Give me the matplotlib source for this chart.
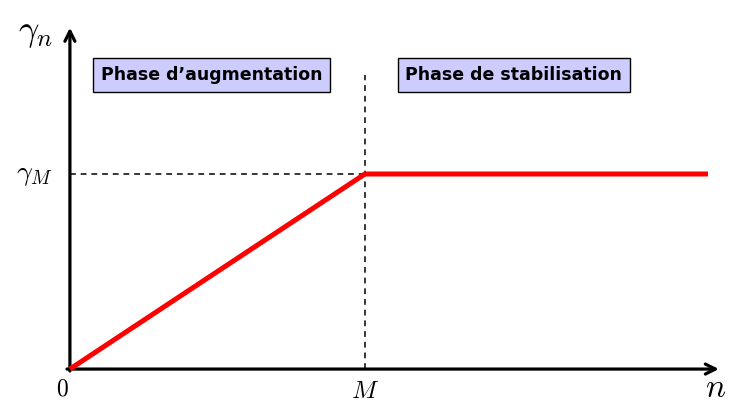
import matplotlib.pyplot as plt

plt.rcParams['mathtext.fontset'] = 'cm'

# n en unités de M, gamma en unités de gamma_M
n = [0, 1, 2.163]
gamma = [0, 1, 1]
M = 1
gamma_M = 1
phases = ["Phase d\u2019augmentation", "Phase de stabilisation"]

fig = plt.figure(figsize=(7.31, 4.03), dpi=100)
ax = fig.add_axes([0, 0, 1, 1])
ax.set_xlim(-0.237, 2.241)
ax.set_ylim(-0.174, 1.892)
ax.axis('off')

# axes fléchés
ax.annotate('', xy=(2.20, 0), xytext=(-0.01, 0),
            arrowprops=dict(arrowstyle='->', lw=2.3, color='black', mutation_scale=18,
                            shrinkA=0, shrinkB=0))
ax.annotate('', xy=(0, 1.75), xytext=(0, -0.01),
            arrowprops=dict(arrowstyle='->', lw=2.3, color='black', mutation_scale=18,
                            shrinkA=0, shrinkB=0))

# repères pointillés
ax.plot([0, M], [gamma_M, gamma_M], ls=(0, (3.8, 3.2)), color='black', lw=1.1)
ax.plot([M, M], [0, 1.51], ls=(0, (3.8, 3.2)), color='black', lw=1.1)

# courbe gamma_n
ax.plot(n, gamma, color='#ff0000', lw=3.6, solid_capstyle='butt', zorder=3)

# étiquettes
ax.text(-0.115, 1.725, r'$\gamma_n$', fontsize=26, ha='center', va='center')
ax.text(-0.12, gamma_M, r'$\gamma_M$', fontsize=20, ha='center', va='center')
ax.text(-0.027, -0.10, r'$0$', fontsize=17, ha='center', va='center')
ax.text(M, -0.11, r'$M$', fontsize=18, ha='center', va='center')
ax.text(2.188, -0.095, r'$n$', fontsize=24, ha='center', va='center')

box = dict(boxstyle='square,pad=0.45', facecolor='#ccccff', edgecolor='black', lw=1.0)
ax.text(0.481, 1.508, phases[0], fontsize=12.5, fontweight='bold', ha='center', va='center', bbox=box)
ax.text(1.505, 1.508, phases[1], fontsize=12.5, fontweight='bold', ha='center', va='center', bbox=box)

fig.savefig('out.png', dpi=100)
